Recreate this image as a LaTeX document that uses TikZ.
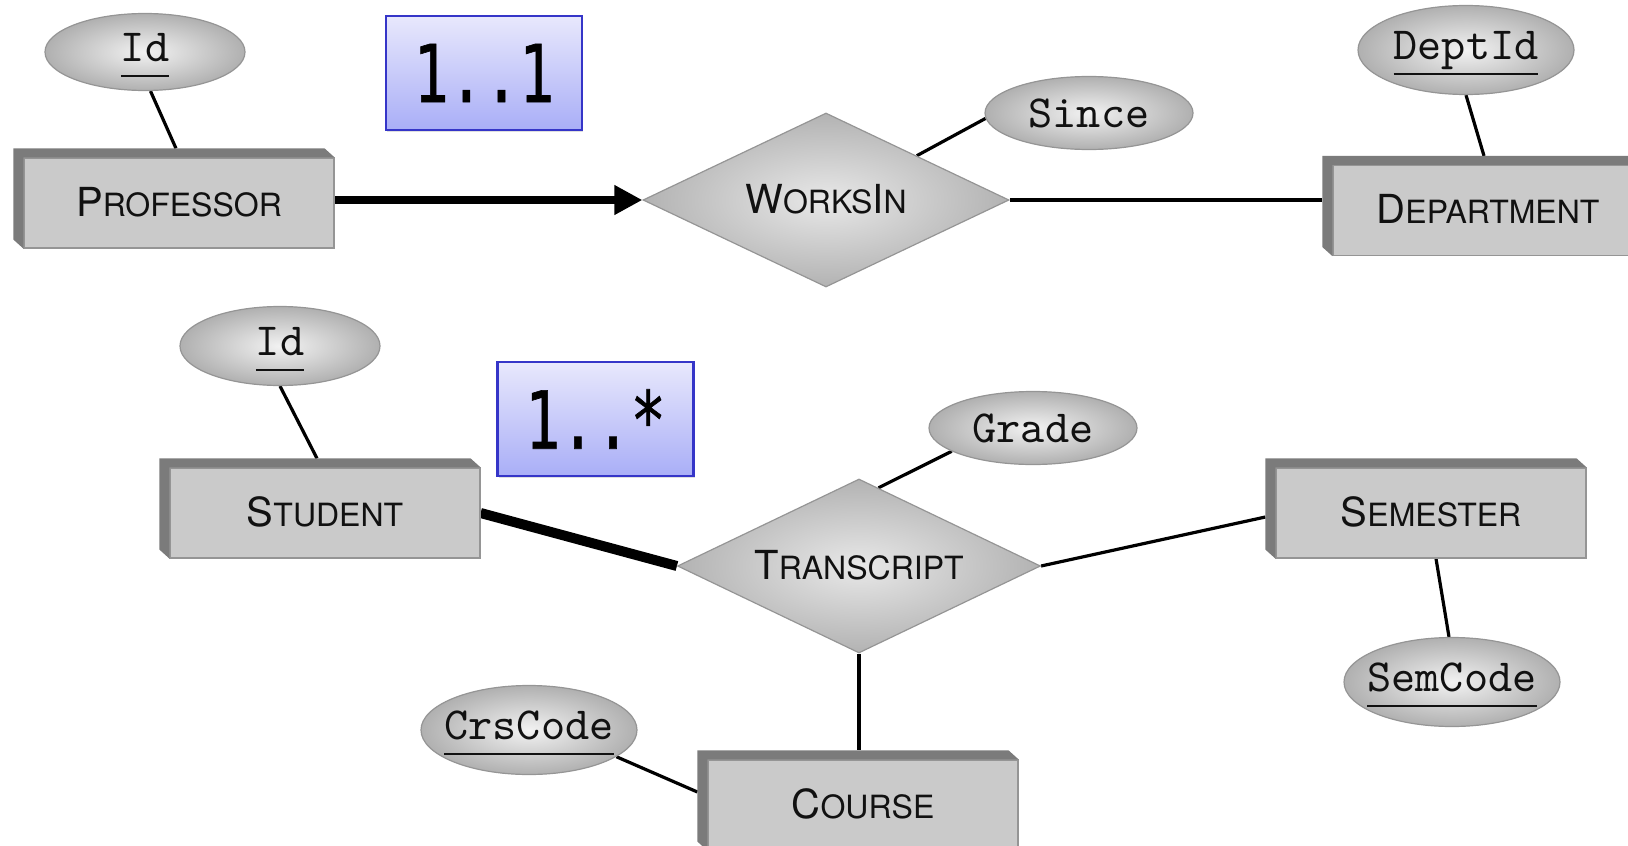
\documentclass[tikz,border=0pt]{standalone}
\usepackage{fontspec}
\setmainfont{TeX Gyre Heros}
\newfontface\multfont{DejaVu Sans Mono}[FakeBold=0.8]
\newfontface\attrfont{lmmono10-regular.otf}
\usetikzlibrary{shapes.geometric,arrows.meta,calc,shadows}
\pgfdeclarelayer{bg}
\pgfsetlayers{bg,main}

\definecolor{facegray}{HTML}{CACACA}
\definecolor{shadowgray}{HTML}{7B7B7B}
\definecolor{bordergray}{HTML}{959595}
\definecolor{multtop}{HTML}{E8E8FC}
\definecolor{multbot}{HTML}{A9AEF7}
\definecolor{multborder}{HTML}{3535C8}
\definecolor{inkblack}{HTML}{111111}

\newcommand\scap[2]{{\fontsize{20}{24}\selectfont #1}{\fontsize{16}{19}\selectfont #2}}
\newcommand\enttext[1]{\raisebox{1.5pt}{#1}}
\newcommand\keyattr[1]{\makebox[0pt]{\setbox0\hbox{\attrfont\fontsize{23}{23}\selectfont #1}\dp0=0pt\ht0=\dimexpr\ht0+3pt\relax\vtop{\copy0\kern7pt\hrule height 1pt}}}
\newcommand\plainattr[1]{\makebox[0pt]{\attrfont\fontsize{23}{23}\selectfont #1}}
\newcommand\multtext[1]{\scalebox{0.73}[1]{\multfont\fontsize{40}{40}\selectfont #1}}
\newcommand\boxshadow[1]{\fill[shadowgray] ([shift={(-10,-9)}]#1.south west) -- ([shift={(-10,-9)}]#1.north west) -- ([shift={(-10,-9)}]#1.north east) -- (#1.north east) -- (#1.north west) -- (#1.south west) -- cycle;}

\tikzset{
  attr/.style={ellipse, draw=bordergray, line width=0.6pt, inner color=gray!10, outer color=gray!62, inner sep=0pt, text=inkblack},
  entity/.style={rectangle, draw=bordergray, line width=0.6pt, fill=facegray, minimum width=155pt, minimum height=45pt, inner sep=0pt, text=inkblack},
  rel/.style={diamond, draw=bordergray, line width=0.6pt, inner color=gray!18, outer color=gray!60, inner sep=0pt, aspect=2, text=inkblack},
  mult/.style={rectangle, draw=multborder, line width=1.3pt, top color=multtop, bottom color=multbot, minimum width=98pt, minimum height=57pt, inner sep=0pt, drop shadow={opacity=0.25, shadow xshift=0.6pt, shadow yshift=-1.2pt}},
  conn/.style={draw=black, line width=1.6pt},
  arrowline/.style={draw=black, line width=3.75pt, -{Triangle[length=14pt,width=14pt]}},
  totalline/.style={draw=black, line width=5pt},
}

\begin{document}
\begin{tikzpicture}[x=0.5pt,y=-0.5pt]
\useasboundingbox (0,0) rectangle (1628,846);
\clip (0,0) rectangle (1628,846);

% upper relationship
\node[attr, minimum width=100pt, minimum height=38.5pt] (pid) at (145,52) {\keyattr{Id}};
\node[entity] (prof) at (179,203) {\enttext{\scap{P}{ROFESSOR}}};
\boxshadow{prof}
\node[mult] (m1) at (484,73) {\multtext{1..1}};
\node[rel, minimum width=183pt, minimum height=87pt] (works) at (826,200) {\makebox[0pt]{\enttext{\scap{W}{ORKS}\scap{I}{N}}}};
\node[attr, minimum width=104pt, minimum height=36.5pt] (since) at (1089,113) {\plainattr{Since}};
\node[attr, minimum width=108pt, minimum height=44.5pt] (did) at (1466,50) {\keyattr{DeptId}};
\node[entity] (dept) at (1488,210.5) {\enttext{\scap{D}{EPARTMENT}}};
\boxshadow{dept}

% lower relationship
\node[attr, minimum width=100pt, minimum height=39.5pt] (sid) at (280,346) {\keyattr{Id}};
\node[entity] (stu) at (325,513) {\enttext{\scap{S}{TUDENT}}};
\boxshadow{stu}
\node[mult] (m2) at (595.5,419) {\multtext{1..*}};
\node[attr, minimum width=104pt, minimum height=36.5pt] (grade) at (1033,428) {\plainattr{Grade}};
\node[rel, minimum width=181.5pt, minimum height=87pt] (trans) at (859,566) {\makebox[0pt]{\enttext{\scap{T}{RANSCRIPT}}}};
\node[entity] (sem) at (1431,513) {\enttext{\scap{S}{EMESTER}}};
\boxshadow{sem}
\node[attr, minimum width=108pt, minimum height=44.5pt] (semc) at (1452,682) {\keyattr{SemCode}};
\node[attr, minimum width=108pt, minimum height=44.5pt] (crsc) at (529,730) {\keyattr{CrsCode}};
\node[entity] (course) at (863,805) {\enttext{\scap{C}{OURSE}}};
\boxshadow{course}

\begin{pgfonlayer}{bg}
\draw[conn] (pid.-82) -- ([shift={(-3,-9)}]prof.north);
\draw[arrowline] (works.west -| prof.east) -- (works.west);
\draw[conn] (since.183) -- (works.26);
\draw[conn] (works.east) -- ([xshift=-5pt]works.east -| dept.west);
\draw[conn] (did.south) -- ([shift={(-4,-9)}]dept.north);
\draw[conn] (sid.south) -- ([shift={(-8,-9)}]stu.north);
\draw[totalline] (stu.east) -- (trans.west);
\draw[conn] (grade.196) -- (trans.76);
\draw[conn] (trans.east) -- ([shift={(-10,4)}]sem.west);
\draw[conn] ([xshift=2.5pt]sem.south) -- ([xshift=-1.5pt]semc.north);
\draw[conn] (trans.south) -- ([yshift=4.5pt]trans.south |- course.north);
\draw[conn] (crsc.-17) -- ([shift={(-10,-13)}]course.west);
\end{pgfonlayer}
\end{tikzpicture}
\end{document}
